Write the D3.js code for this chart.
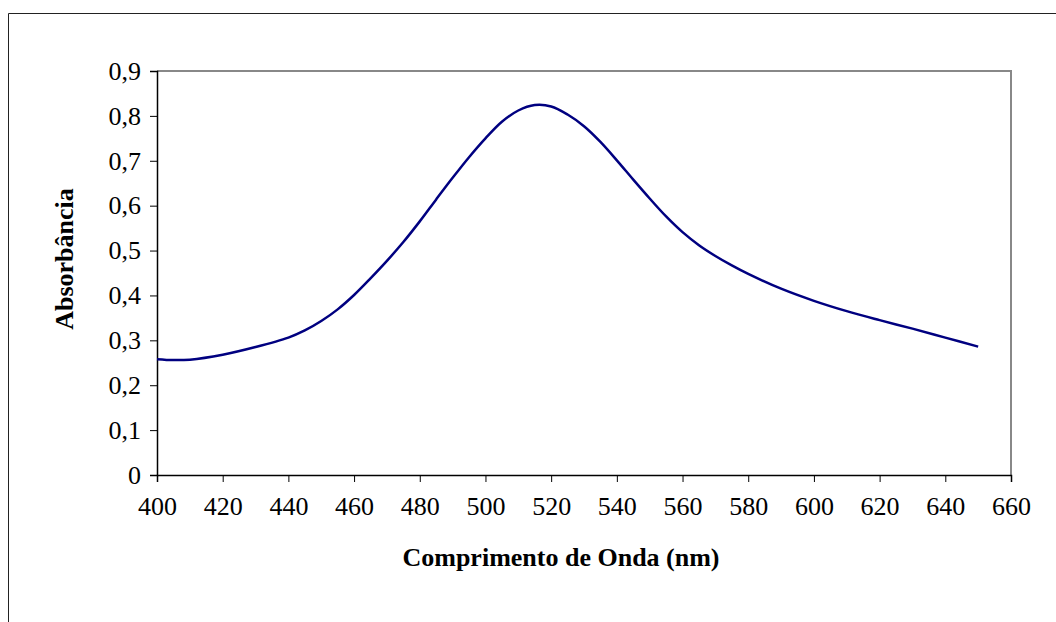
<!DOCTYPE html>
<html>
<head>
<meta charset="utf-8">
<script src="https://cdn.jsdelivr.net/npm/d3@7"></script>
<style>
  html, body { margin: 0; padding: 0; background: #fff; }
  svg { display: block; }
  text { font-family: "Liberation Serif", "Times New Roman", serif; }
</style>
</head>
<body>
<svg id="chart" width="1056" height="622"></svg>
<script>
// Data
const wavelengths = [400, 405, 410, 420, 430, 440, 445, 450, 455, 460, 465, 470, 475, 480, 485, 490, 495, 500, 505, 510, 515, 520, 525, 530, 535, 540, 545, 550, 555, 560, 565, 570, 575, 580, 590, 600, 610, 620, 630, 640, 650];
const absorbance  = [0.258, 0.256, 0.257, 0.268, 0.285, 0.306, 0.322, 0.343, 0.369, 0.401, 0.438, 0.477, 0.519, 0.565, 0.614, 0.662, 0.708, 0.750, 0.787, 0.812, 0.824, 0.821, 0.803, 0.777, 0.742, 0.701, 0.658, 0.616, 0.576, 0.541, 0.512, 0.488, 0.467, 0.448, 0.415, 0.388, 0.365, 0.345, 0.326, 0.306, 0.286];
const xTicks = [400, 420, 440, 460, 480, 500, 520, 540, 560, 580, 600, 620, 640, 660];
const yTicks = [0, 0.1, 0.2, 0.3, 0.4, 0.5, 0.6, 0.7, 0.8, 0.9];
const xTitle = "Comprimento de Onda (nm)";
const yTitle = "Absorbância";

const svg = d3.select("#chart");
const pLeft = 157, pRight = 1011, pTop = 71, pBottom = 475;
const FONT = "Liberation Serif, Times New Roman, serif";

const x = d3.scaleLinear().domain([400, 660]).range([pLeft, pRight]);
const y = d3.scaleLinear().domain([0, 0.9]).range([pBottom, pTop]);

// Outer chart border (only top and left visible)
svg.append("path")
  .attr("d", `M8.5,622 L8.5,13.5 L1056,13.5`)
  .attr("fill", "none").attr("stroke", "#222").attr("stroke-width", 1);

// Plot area frame: top & right grey
svg.append("path")
  .attr("d", `M${pLeft},${pTop} L${pRight},${pTop} L${pRight},${pBottom}`)
  .attr("fill", "none").attr("stroke", "#888").attr("stroke-width", 2);

const fmt = d => d === 0 ? "0" : d3.format(".1f")(d).replace(".", ",");

// Y axis
const yAxis = svg.append("g")
  .attr("transform", `translate(${pLeft},0)`)
  .call(d3.axisLeft(y).tickValues(yTicks).tickFormat(fmt).tickSize(7).tickPadding(9));
yAxis.select(".domain").attr("stroke", "#000").attr("stroke-width", 1.5);
yAxis.selectAll(".tick line").attr("stroke", "#000").attr("stroke-width", 1);
yAxis.selectAll("text").attr("font-size", 26).attr("fill", "#000").attr("font-family", FONT);

// X axis
const xAxis = svg.append("g")
  .attr("transform", `translate(0,${pBottom})`)
  .call(d3.axisBottom(x).tickValues(xTicks).tickFormat(d3.format("d")).tickSize(7).tickPadding(15));
xAxis.select(".domain").attr("stroke", "#000").attr("stroke-width", 1.5);
xAxis.selectAll(".tick line").attr("stroke", "#000").attr("stroke-width", 1);
xAxis.selectAll("text").attr("font-size", 26).attr("fill", "#000").attr("font-family", FONT);

// Curve
const data = wavelengths.map((w, i) => ({ w, a: absorbance[i] }));
svg.append("path")
  .datum(data)
  .attr("fill", "none")
  .attr("stroke", "#000080")
  .attr("stroke-width", 2.5)
  .attr("stroke-linejoin", "round")
  .attr("d", d3.line().x(d => x(d.w)).y(d => y(d.a)).curve(d3.curveCatmullRom));

// Axis titles
svg.append("text")
  .attr("x", 561).attr("y", 566)
  .attr("text-anchor", "middle")
  .attr("font-size", 26).attr("font-weight", "bold").attr("fill", "#000").attr("font-family", FONT)
  .text(xTitle);

svg.append("text")
  .attr("transform", "translate(73,259) rotate(-90)")
  .attr("text-anchor", "middle")
  .attr("font-size", 26).attr("font-weight", "bold").attr("fill", "#000").attr("font-family", FONT)
  .text(yTitle);
</script>
</body>
</html>
